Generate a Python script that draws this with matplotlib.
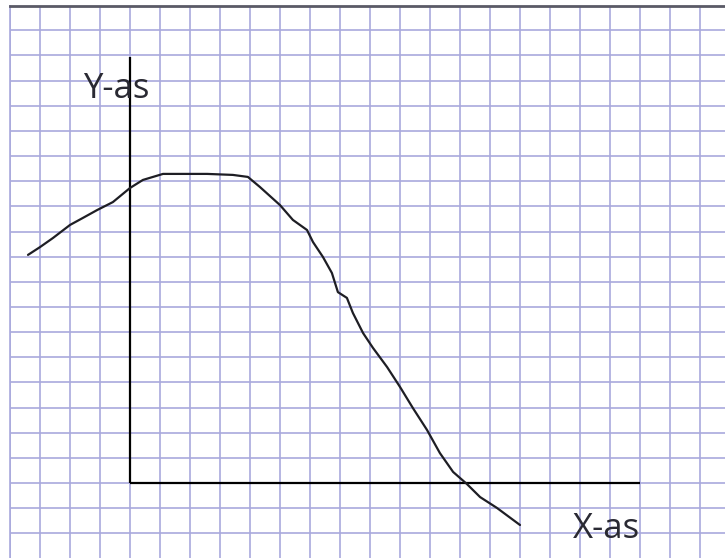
import matplotlib
matplotlib.use("Agg")
import matplotlib.pyplot as plt
import numpy as np

# Curve values in grid units (origin at the drawn axes' crossing)
curve_x = [-3.40, -3.00, -2.57, -2.00, -1.57, -1.10, -0.57, 0.00, 0.43, 1.10,
           2.57, 3.43, 3.93, 4.33, 5.00, 5.43, 5.90, 6.10, 6.43, 6.73,
           6.93, 7.23, 7.43, 7.77, 8.10, 8.57, 9.00, 9.43, 9.90, 10.33,
           10.77, 11.23, 11.67, 12.23, 13.00]
curve_y = [9.07, 9.38, 9.74, 10.26, 10.54, 10.85, 11.17, 11.73, 12.05, 12.29,
           12.29, 12.25, 12.17, 11.77, 11.05, 10.46, 10.06, 9.58, 8.99, 8.35,
           7.59, 7.36, 6.76, 5.96, 5.37, 4.61, 3.82, 2.98, 2.11, 1.19,
           0.44, -0.04, -0.56, -0.99, -1.67]

y_axis_top = 16.94
x_axis_end = 17.0
y_label = "Y-as"
x_label = "X-as"

fig = plt.figure(figsize=(7.25, 5.58), dpi=100)
fig.patch.set_facecolor("white")
W, H = 725, 558
ax = fig.add_axes([10 / W, 0, 1 - 10 / W, (H - 6) / H])
ax.set_xlim(-4, (725 - 130) / 30)
ax.set_ylim((483 - 558) / 25.15, (483 - 6) / 25.15)

grid_color = "#a9a9dd"
ax.set_xticks(np.arange(-4, 20))
ax.set_yticks(np.arange(-2, 19))
ax.grid(True, color=grid_color, linewidth=1.2)
ax.tick_params(length=0, labelbottom=False, labelleft=False)
for s in ("left", "right", "bottom"):
    ax.spines[s].set_visible(False)
ax.spines["top"].set_color("#5a5a66")
ax.spines["top"].set_linewidth(2.0)
ax.spines["left"].set_visible(True)
ax.spines["left"].set_color(grid_color)
ax.spines["left"].set_linewidth(1.2)

# drawn axes
ax.plot([0, 0], [0, y_axis_top], color="black", linewidth=1.6, solid_capstyle="butt")
ax.plot([0, x_axis_end], [0, 0], color="black", linewidth=1.6, solid_capstyle="butt")

# hand-drawn curve
ax.plot(curve_x, curve_y, color="#1e1e24", linewidth=1.6, solid_joinstyle="round",
        solid_capstyle="round")

ax.text(-1.57, 15.31, y_label, fontsize=25, family=["Open Sans", "DejaVu Sans"],
        color="#2a2a33", ha="left", va="baseline")
ax.text(14.77, -2.19, x_label, fontsize=25, family=["Open Sans", "DejaVu Sans"],
        color="#2a2a33", ha="left", va="baseline")

fig.savefig("out.png", dpi=100, facecolor="white")
